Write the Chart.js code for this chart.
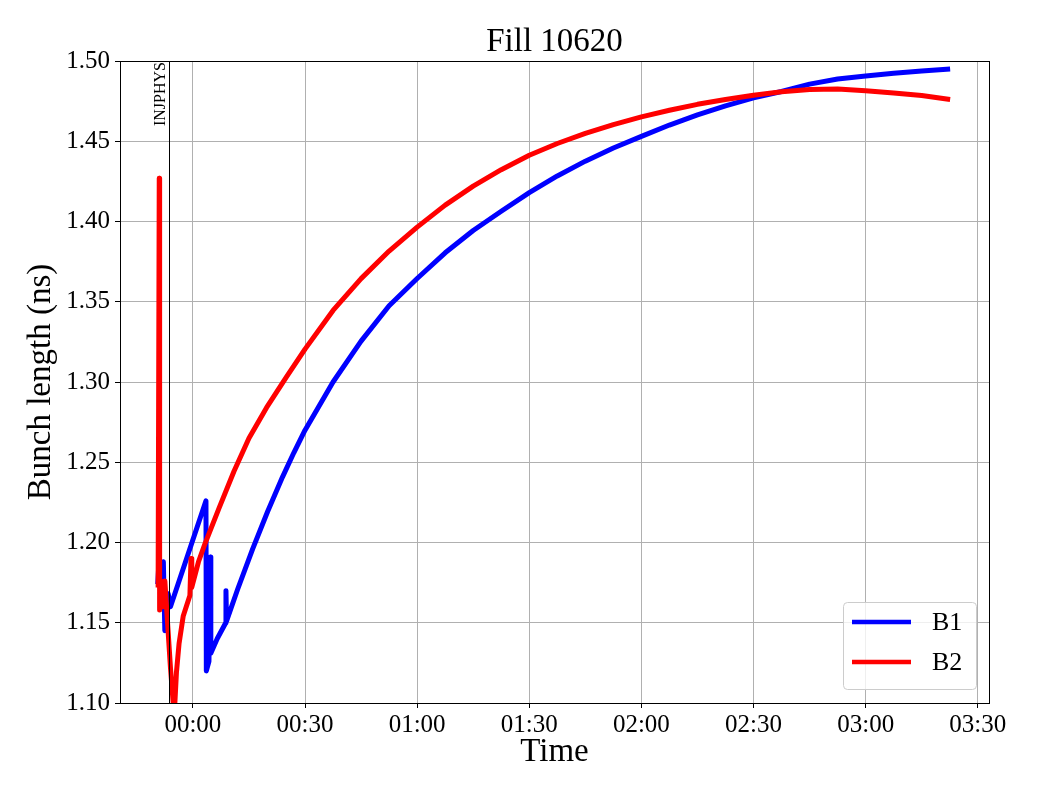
<!DOCTYPE html>
<html>
<head>
<meta charset="utf-8">
<title>Fill 10620</title>
<script src="https://cdn.jsdelivr.net/npm/chart.js@4.4.1/dist/chart.umd.min.js"></script>
<style>
    html, body { margin: 0; padding: 0; background: #fff; }
</style>
</head>
<body>
<canvas id="canvasBunch" width="1040" height="800"></canvas>
<script>
"use strict";

// time in minutes from 00:00, bunch length in ns
var b1Times = [-9.4, -9.0, -8.6, -7.9, -7.5, -6.6, -6.0, 3.5, 3.6, 4.3, 4.7, 4.8, 6.5, 8.8, 8.85, 9.0,
    12, 16, 20, 24, 27, 30, 37.5, 45, 52.5, 60, 67.5, 75, 82.5, 90, 97.5, 105, 112.5, 120,
    127.5, 135, 142.5, 150, 157.5, 165, 172.5, 180, 187.5, 195, 202.6];
var b1Values = [1.174, 1.191, 1.176, 1.188, 1.145, 1.168, 1.160, 1.226, 1.120, 1.126, 1.191, 1.131, 1.140, 1.150, 1.170, 1.151,
    1.171, 1.196, 1.2193, 1.2409, 1.2559, 1.270, 1.300, 1.3255, 1.3475, 1.3645, 1.3805, 1.3944, 1.4064, 1.418, 1.4284, 1.4376, 1.4458, 1.453,
    1.4601, 1.4664, 1.472, 1.477, 1.481, 1.4856, 1.4888, 1.4906, 1.4923, 1.4937, 1.495];

var b2Times = [-9.3, -9.0, -8.9, -8.5, -8.1, -7.5, -7.0, -6.0, -5.0, -4.4, -3.7, -2.6, -0.8, -0.5, -0.3,
    1.5, 3.2, 7.0, 11, 15, 19.7, 25, 30, 37.5, 45, 52.5, 60, 67.5, 75, 82.5, 90, 97.5, 105, 112.5, 120,
    127.5, 135, 142.5, 150, 157.5, 165, 172.5, 180, 187.5, 195, 202.6];
var b2Values = [1.172, 1.427, 1.158, 1.176, 1.160, 1.176, 1.158, 1.122, 1.092, 1.119, 1.137, 1.154, 1.167, 1.190, 1.172,
    1.188, 1.199, 1.2214, 1.2444, 1.265, 1.284, 1.303, 1.3205, 1.3446, 1.3644, 1.3816, 1.3965, 1.4102, 1.422, 1.4323, 1.4413,
    1.4486, 1.4549, 1.4604, 1.4652, 1.4693, 1.473, 1.476, 1.4787, 1.4808, 1.4822, 1.4825, 1.4814, 1.480, 1.4785, 1.476];

var beamLabels = ['B1', 'B2'];
var beamColors = ['#0000ff', '#ff0000'];

var injphysTime = -6.5;
var injphysLabel = 'INJPHYS';
var chartTitle = 'Fill 10620';

var xMin = -19.5, xMax = 213;
var yMin = 1.10, yMax = 1.50;

var serif = "'Liberation Serif', 'Times New Roman', serif";

function ToPoints(times, values) {
    return times.map(function (t, i) { return { x: t, y: values[i] }; });
}

function FormatTime(v) {
    var h = Math.floor(v / 60);
    var m = Math.round(v - h * 60);
    return String(h).padStart(2, '0') + ':' + String(m).padStart(2, '0');
}

// frame, event line, title and legend
var decorPlugin = {
    id: 'decor',
    afterDatasetsDraw: function (chart) {
        var ctx = chart.ctx;
        var area = chart.chartArea;
        var xScale = chart.scales.x;

        ctx.save();
        var lx = Math.round(xScale.getPixelForValue(injphysTime)) + 0.5;
        ctx.strokeStyle = '#000';
        ctx.lineWidth = 1;
        ctx.beginPath();
        ctx.moveTo(lx, area.top);
        ctx.lineTo(lx, area.bottom);
        ctx.stroke();

        ctx.translate(lx - 5, area.top + 1);
        ctx.rotate(-Math.PI / 2);
        ctx.fillStyle = '#000';
        ctx.font = '16px ' + serif;
        ctx.textAlign = 'right';
        ctx.textBaseline = 'alphabetic';
        ctx.fillText(injphysLabel, 0, 0);
        ctx.restore();

        ctx.save();
        ctx.strokeStyle = '#000';
        ctx.lineWidth = 1;
        ctx.strokeRect(Math.round(area.left) + 0.5, Math.round(area.top) + 0.5,
            Math.round(area.right - area.left), Math.round(area.bottom - area.top));

        ctx.fillStyle = '#000';
        ctx.font = '33px ' + serif;
        ctx.textAlign = 'center';
        ctx.textBaseline = 'alphabetic';
        ctx.fillText(chartTitle, (area.left + area.right) / 2, 51);

        var bw = 133, bh = 87;
        var bx = area.right - 13 - bw;
        var by = area.bottom - 14 - bh;
        ctx.beginPath();
        ctx.roundRect(bx + 0.5, by + 0.5, bw, bh, 4);
        ctx.fillStyle = 'rgba(255,255,255,0.8)';
        ctx.fill();
        ctx.strokeStyle = '#cccccc';
        ctx.stroke();

        ctx.font = '26px ' + serif;
        ctx.textAlign = 'left';
        ctx.textBaseline = 'middle';
        chart.data.datasets.forEach(function (ds, i) {
            var y = by + 20 + i * 40;
            ctx.strokeStyle = ds.borderColor;
            ctx.lineWidth = 4.5;
            ctx.beginPath();
            ctx.moveTo(bx + 9, y);
            ctx.lineTo(bx + 68, y);
            ctx.stroke();
            ctx.fillStyle = '#000';
            ctx.fillText(ds.label, bx + 89, y + 1);
        });
        ctx.restore();
    }
};

const context = document.getElementById('canvasBunch');
const myChart = new Chart(context, {
    type: 'line',
    data: {
        datasets: [{
            label: beamLabels[0],
            data: ToPoints(b1Times, b1Values),
            borderColor: beamColors[0],
            backgroundColor: beamColors[0],
            borderWidth: 5,
            borderJoinStyle: 'round',
            tension: 0,
            pointRadius: 0,
            order: 1
        }, {
            label: beamLabels[1],
            data: ToPoints(b2Times, b2Values),
            borderColor: beamColors[1],
            backgroundColor: beamColors[1],
            borderWidth: 5,
            borderJoinStyle: 'round',
            tension: 0,
            pointRadius: 0,
            order: 0
        }]
    },
    options: {
        responsive: false,
        animation: false,
        layout: { padding: { top: 61, right: 51, bottom: 0, left: 0 } },
        plugins: {
            legend: { display: false },
            title: { display: false },
            tooltip: { enabled: false }
        },
        scales: {
            x: {
                type: 'linear',
                min: xMin,
                max: xMax,
                afterFit: function (s) { s.height = 97; },
                ticks: {
                    stepSize: 30,
                    includeBounds: false,
                    maxRotation: 0,
                    autoSkip: false,
                    padding: 2,
                    color: '#000',
                    font: { family: serif, size: 25 },
                    callback: function (v) { return FormatTime(v); }
                },
                grid: { color: '#b0b0b0', tickColor: '#000', tickLength: 5, lineWidth: 1 },
                border: { color: '#000', width: 1 },
                title: {
                    display: true,
                    text: 'Time',
                    color: '#000',
                    font: { family: serif, size: 33 },
                    padding: { top: 0, bottom: 28 }
                }
            },
            y: {
                min: yMin,
                max: yMax,
                afterFit: function (s) { s.width = 120; },
                ticks: {
                    stepSize: 0.05,
                    padding: 5,
                    color: '#000',
                    font: { family: serif, size: 25 },
                    callback: function (v) { return v.toFixed(2); }
                },
                grid: { color: '#b0b0b0', tickColor: '#000', tickLength: 5, lineWidth: 1 },
                border: { color: '#000', width: 1 },
                title: {
                    display: true,
                    text: 'Bunch length (ns)',
                    color: '#000',
                    font: { family: serif, size: 33 },
                    padding: { top: 22, bottom: 0 }
                }
            }
        }
    },
    plugins: [decorPlugin]
});
</script>
</body>
</html>
